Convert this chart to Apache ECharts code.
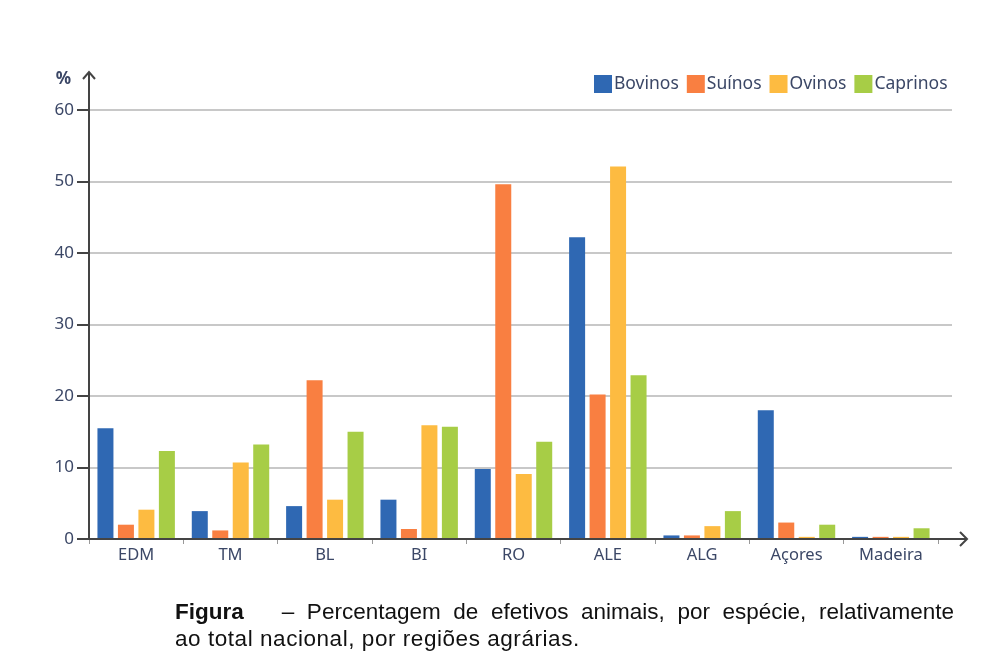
<!DOCTYPE html>
<html>
<head>
<meta charset="utf-8">
<script src="https://cdn.jsdelivr.net/npm/echarts@6/dist/echarts.min.js"></script>
<style>
    html, body { margin: 0; padding: 0; background: #fff; }
    #wrap { position: relative; width: 997px; height: 657px; }
    #chart { position: absolute; left: 0; top: 0; width: 997px; height: 657px; }
    #caption {
        position: absolute; left: 175px; top: 598px; width: 779px;
        font-family: 'Liberation Sans', Arial, sans-serif; font-size: 22.5px;
        line-height: 27px; color: #111;
    }
    #caption .l1 { text-align: justify; text-align-last: justify; white-space: nowrap; }
    #caption .l2 { letter-spacing: 0.55px; }
    #caption b { margin-right: 38px; }
</style>
</head>
<body>
<div id="wrap">
    <div id="chart"></div>
    <div id="caption">
        <div class="l1"><b>Figura</b>– Percentagem de efetivos animais, por espécie, relativamente</div>
        <div class="l2">ao total nacional, por regiões agrárias.</div>
    </div>
</div>
<script>
var regioes = ['EDM', 'TM', 'BL', 'BI', 'RO', 'ALE', 'ALG', 'Açores', 'Madeira'];
var bovinos = [15.5, 3.9, 4.6, 5.5, 9.8, 42.2, 0.5, 18.0, 0.3];
var suinos = [2.0, 1.2, 22.2, 1.4, 49.6, 20.2, 0.5, 2.3, 0.3];
var ovinos = [4.1, 10.7, 5.5, 15.9, 9.1, 52.1, 1.8, 0.3, 0.3];
var caprinos = [12.3, 13.2, 15.0, 15.7, 13.6, 22.9, 3.9, 2.0, 1.5];
var yTicks = [0, 10, 20, 30, 40, 50, 60];

var chartDom = document.getElementById('chart');
var myChart = echarts.init(chartDom);

var fontAxis = "'Noto Sans', 'Open Sans', sans-serif";
var gridL = 89, gridR = 59, gridT = 110, gridB = 118;

function makeSeries(name, values, color) {
    return {
        name: name,
        type: 'bar',
        data: values,
        barWidth: 16,
        barGap: '28%',
        itemStyle: { color: color },
        emphasis: { disabled: true }
    };
}

var option = {
    animation: false,
    legend: {
        left: 589,
        top: 70,
        itemWidth: 18,
        itemHeight: 18,
        itemGap: 8,
        icon: 'rect',
        textStyle: { fontSize: 17.5, fontFamily: fontAxis, color: '#3b4766', padding: [0, 0, 0, -3] },
        data: ['Bovinos', 'Suínos', 'Ovinos', 'Caprinos']
    },
    grid: { left: gridL, right: gridR, top: gridT, bottom: gridB },
    xAxis: {
        type: 'category',
        data: regioes,
        axisLine: { show: false },
        axisTick: { show: true, length: 5, lineStyle: { color: '#999' } },
        axisLabel: { fontSize: 16.5, fontFamily: fontAxis, color: '#3b4766', margin: 8 }
    },
    yAxis: {
        type: 'value',
        min: 0,
        max: 60,
        interval: 10,
        name: '%',
        nameLocation: 'end',
        nameGap: 22,
        nameTextStyle: { fontSize: 17, fontWeight: 'bold', fontFamily: fontAxis, color: '#3b4766', align: 'right', padding: [0, 18, 0, 0] },
        axisLine: { show: false },
        axisTick: { show: false },
        axisLabel: { fontSize: 17, fontFamily: fontAxis, color: '#3b4766', margin: 15 },
        splitLine: { lineStyle: { color: '#c8c8c8', width: 2 } }
    },
    series: [
        makeSeries('Bovinos', bovinos, '#2f68b3'),
        makeSeries('Suínos', suinos, '#f97f41'),
        makeSeries('Ovinos', ovinos, '#fdbb41'),
        makeSeries('Caprinos', caprinos, '#a7cd46')
    ]
};

option && myChart.setOption(option);

// axis arrows, y ticks and the grid lines running a little past the last category
var x0 = gridL;
var y0 = Math.round(myChart.convertToPixel({ yAxisIndex: 0 }, 0));
var xEnd = 997 - gridR;
var axisStyle = { stroke: '#444', lineWidth: 2, fill: null };
var extra = [];
yTicks.forEach(function (v) {
    var y = Math.round(myChart.convertToPixel({ yAxisIndex: 0 }, v));
    extra.push({ type: 'line', z: 10, shape: { x1: x0 - 12, y1: y, x2: x0, y2: y }, style: axisStyle });
    if (v === 0) return;
    extra.push({ type: 'line', shape: { x1: xEnd - 1, y1: y, x2: xEnd + 14, y2: y }, style: { stroke: '#c8c8c8', lineWidth: 2 } });
});
extra.push({ type: 'line', z: 10, shape: { x1: x0, y1: y0, x2: x0, y2: gridT - 38 }, style: axisStyle });
extra.push({ type: 'polyline', z: 10, shape: { points: [[x0 - 6, gridT - 31], [x0, gridT - 38], [x0 + 6, gridT - 31]] }, style: axisStyle });
extra.push({ type: 'line', z: 10, shape: { x1: x0 - 2, y1: y0, x2: xEnd + 29, y2: y0 }, style: axisStyle });
extra.push({ type: 'polyline', z: 10, shape: { points: [[xEnd + 22, y0 - 7], [xEnd + 29, y0], [xEnd + 22, y0 + 7]] }, style: axisStyle });
myChart.setOption({ graphic: extra });
</script>
</body>
</html>
